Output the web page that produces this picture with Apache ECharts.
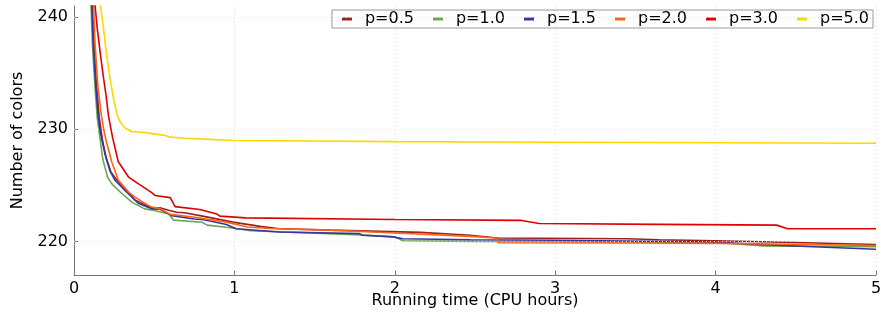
<!DOCTYPE html>
<html>
<head>
<meta charset="utf-8">
<script src="https://cdn.jsdelivr.net/npm/echarts@6/dist/echarts.min.js"></script>
<style>html,body{margin:0;padding:0;background:#fff}#c{width:881px;height:315px}</style>
</head>
<body>
<div id="c"></div>
<script>
var seriesNames = ['p=0.5','p=1.0','p=1.5','p=2.0','p=3.0','p=5.0'];
var xTicks = [0,1,2,3,4,5];
var yTicks = [220,230,240];
var xTitle = 'Running time (CPU hours)';
var yTitle = 'Number of colors';

var p05 = [[0.114,241.5],[0.125,237.5],[0.14,234],[0.158,231],[0.178,229],[0.2,227.5],[0.23,226.2],[0.26,225.6],[0.3,225.0],[0.38,223.7],[0.48,223.0],[0.536,223.0],[0.59,222.77],[0.64,222.6],[0.69,222.55],[0.81,222.23],[0.99,221.72],[1.16,221.34],[1.28,221.13],[1.6,221.0],[2.16,220.8],[2.47,220.55],[2.64,220.3],[3.45,220.24],[3.65,220.15],[4.0,220.05],[4.5,219.9],[5.0,219.72]];
var p10 = [[0.105,241.5],[0.115,237.5],[0.13,234],[0.145,231],[0.162,229.2],[0.18,227.3],[0.193,226.6],[0.21,225.7],[0.235,225.15],[0.26,224.8],[0.3,224.25],[0.36,223.5],[0.44,222.9],[0.5,222.75],[0.59,222.45],[0.62,221.9],[0.8,221.7],[0.83,221.45],[0.99,221.2],[1.1,220.95],[1.3,220.85],[1.75,220.6],[2.0,220.4],[2.05,220.05],[2.5,220.0],[3.0,219.98],[4.0,219.9],[4.3,219.6],[5.0,219.52]];
var p15 = [[0.11,241.5],[0.12,237.5],[0.135,234],[0.15,231.3],[0.162,229.9],[0.175,229],[0.193,227.8],[0.224,226.3],[0.256,225.45],[0.318,224.55],[0.4,223.4],[0.484,222.9],[0.536,222.86],[0.61,222.3],[0.75,222.0],[0.81,221.93],[0.95,221.5],[1.01,221.13],[1.28,220.83],[1.78,220.69],[1.8,220.55],[1.99,220.4],[2.05,220.24],[2.47,220.15],[3.0,220.1],[4.0,219.95],[4.3,219.7],[5.0,219.3]];
var p20 = [[0.12,241.5],[0.132,237.5],[0.148,234],[0.168,231.5],[0.185,230],[0.2,229.0],[0.235,227.1],[0.276,225.45],[0.34,224.4],[0.38,223.95],[0.43,223.5],[0.484,223.06],[0.536,222.92],[0.6,222.41],[0.74,222.17],[0.95,221.72],[1.08,221.28],[1.22,221.15],[1.6,221.0],[2.0,220.75],[2.47,220.45],[2.63,220.3],[2.645,219.88],[3.5,219.85],[4.0,219.82],[4.5,219.75],[5.0,219.62]];
var p30 = [[0.128,241.5],[0.145,239],[0.162,237],[0.18,235],[0.2,233],[0.215,231.2],[0.24,229.3],[0.276,227.1],[0.34,225.74],[0.4,225.15],[0.48,224.4],[0.505,224.1],[0.6,223.9],[0.63,223.1],[0.785,222.85],[0.89,222.45],[0.91,222.25],[1.07,222.1],[2.0,221.95],[2.79,221.87],[2.9,221.6],[3.65,221.52],[4.38,221.45],[4.45,221.13],[5.0,221.13]];
var p50 = [[0.16,241.5],[0.18,239.5],[0.2,237.0],[0.225,234.5],[0.25,232.5],[0.27,231.2],[0.29,230.6],[0.32,230.1],[0.36,229.8],[0.45,229.7],[0.52,229.55],[0.57,229.45],[0.6,229.3],[0.7,229.2],[0.85,229.1],[1.0,229.0],[1.5,228.95],[2.0,228.9],[3.0,228.85],[4.0,228.8],[5.0,228.75]];

var seriesData = [p05,p10,p15,p20,p30,p50];
var colors = ['#9e1f1c','#6aa84f','#3535a8','#ff6314','#e00000','#ffd700'];

var chart = echarts.init(document.getElementById('c'), null, {renderer:'canvas'});
var font = 'DejaVu Sans';
chart.setOption({
  animation:false,
  color: colors,
  grid:{left:74,right:5,top:6,bottom:40,containLabel:false,outerBoundsMode:'none'},
  legend:{
    right:8, top:10, orient:'horizontal',
    data: seriesNames,
    icon:'rect', itemWidth:10, itemHeight:3, itemGap:19,
    borderColor:'#999', borderWidth:1, borderRadius:0, padding:[1,4,1,10],
    textStyle:{fontFamily:font,fontSize:16,color:'#000',padding:[0,0,0,8]}
  },
  graphic:[
    {type:'text', x:475, y:301, silent:true,
     style:{text:xTitle, fontFamily:font, fontSize:16, fill:'#000', textAlign:'center', textVerticalAlign:'middle'}}
  ],
  xAxis:{
    type:'value', min:0, max:5, interval:1,
    axisLine:{show:true,lineStyle:{color:'#777',width:1}},
    axisTick:{show:true,inside:true,length:4,lineStyle:{color:'#777'}},
    axisLabel:{fontFamily:font,fontSize:16,color:'#000',margin:6},
    splitLine:{show:true,lineStyle:{color:'#ddd',type:[1,3],width:1}}
  },
  yAxis:{
    type:'value', min:217, max:241,
    name:yTitle, nameLocation:'middle', nameGap:48, nameRotate:90,
    nameTextStyle:{fontFamily:font,fontSize:16,color:'#000'},
    axisLine:{show:true,lineStyle:{color:'#777',width:1}},
    axisTick:{show:true,inside:true,length:4,lineStyle:{color:'#777'},customValues:yTicks},
    axisLabel:{fontFamily:font,fontSize:16,color:'#000',margin:6,customValues:yTicks},
    splitLine:{show:false}
  },
  series: seriesNames.map(function(n,i){
    return {name:n,type:'line',data:seriesData[i],showSymbol:false,symbol:'none',
      lineStyle:{width:1.6,color:colors[i]},itemStyle:{color:colors[i]},clip:true,
      markLine: i===0 ? {silent:true,symbol:'none',label:{show:false},
        lineStyle:{color:'#ddd',type:[1,3],width:1},
        data: yTicks.map(function(v){return {yAxis:v};})} : undefined,
      z: 2+i};
  })
});
</script>
</body>
</html>
